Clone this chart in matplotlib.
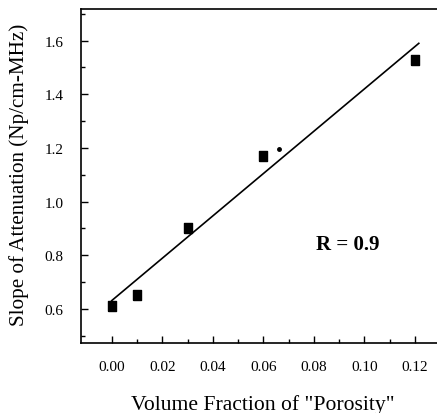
import matplotlib
matplotlib.use("Agg")
import matplotlib.pyplot as plt
import numpy as np

plt.rcParams['font.family'] = ['Liberation Serif', 'DejaVu Serif']

# Data
porosity = [0.00, 0.01, 0.03, 0.06, 0.12]
slope_att = [0.61, 0.653, 0.901, 1.171, 1.529]
extra_x = [0.066]
extra_y = [1.195]
fit_x = [0.0, 0.1215]
fit_y = [0.631, 1.590]
xticks = [0.00, 0.02, 0.04, 0.06, 0.08, 0.10, 0.12]
yticks = [0.6, 0.8, 1.0, 1.2, 1.4, 1.6]
r_text = "R = 0.9"

W, H = 437, 414
fig = plt.figure(figsize=(W / 100, H / 100), dpi=100)
ax = fig.add_axes([81 / W, 1 - 344 / H, (437 - 81) / W, (344 - 10) / H])

rect = [(-0.7, -1), (0.7, -1), (0.7, 1), (-0.7, 1), (-0.7, -1)]
ax.plot(porosity, slope_att, linestyle='none', marker=rect, markersize=7.5,
        color='black')
ax.plot(extra_x, extra_y, linestyle='none', marker='o', markersize=2.5,
        color='black')
ax.plot(fit_x, fit_y, color='black', linewidth=1.2)

ax.set_xlim(-0.01215, 0.1287)
ax.set_ylim(0.473, 1.718)
ax.set_xticks(xticks)
ax.set_xticklabels([f"{v:.2f}" for v in xticks])
ax.set_yticks(yticks)
ax.set_yticklabels([f"{v:.1f}" for v in yticks])
ax.set_xticks(np.arange(0.01, 0.12, 0.02), minor=True)
ax.set_yticks(np.arange(0.5, 1.71, 0.2), minor=True)
ax.tick_params(which='both', direction='in', top=False, right=False,
               labelsize=11, width=1)
ax.tick_params(which='major', length=5)
ax.tick_params(which='minor', length=3)
ax.tick_params(axis='x', which='major', pad=12)
ax.tick_params(axis='y', which='major', pad=12.5)
ax.spines['right'].set_visible(False)
for s in ['left', 'bottom', 'top']:
    ax.spines[s].set_linewidth(1.2)

ax.text(0.0934, 0.842, r_text, fontsize=15, fontweight='bold',
        ha='center', va='center')

fig.text(262.5 / W, 1 - 410 / H, 'Volume Fraction of "Porosity"', fontsize=15.6,
         ha='center', va='baseline')
fig.text(19 / W, 1 - 175 / H, 'Slope of Attenuation (Np/cm-MHz)', fontsize=15.2,
         ha='center', va='center', rotation=90)

fig.savefig('out.png', dpi=100)
